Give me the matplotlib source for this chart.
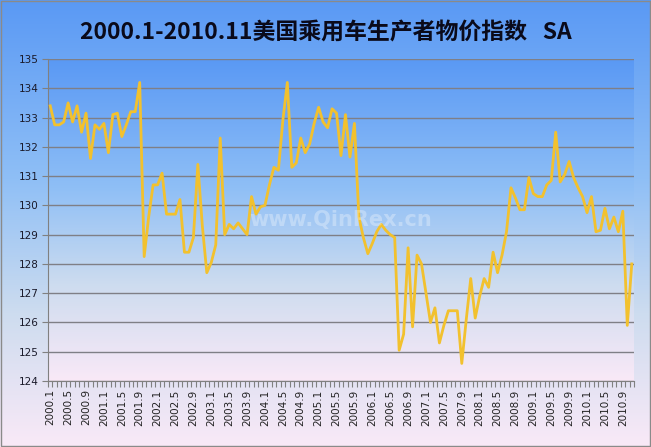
import numpy as np
import matplotlib.pyplot as plt
from matplotlib.colors import LinearSegmentedColormap

# monthly index values, 2000.1 .. 2010.11
years = list(range(2000, 2011))
values = [
    133.4, 132.75, 132.75, 132.85, 133.5, 132.85, 133.4, 132.5, 133.15, 131.6, 132.75, 132.6,
    132.8, 131.8, 133.1, 133.15, 132.35, 132.75, 133.2, 133.2, 134.2, 128.25, 129.6, 130.7,
    130.7, 131.1, 129.7, 129.7, 129.7, 130.2, 128.4, 128.4, 128.9, 131.4, 129.3, 127.7,
    128.05, 128.65, 132.3, 129.0, 129.35, 129.2, 129.4, 129.2, 129.0, 130.3, 129.7, 129.95,
    130.0, 130.7, 131.3, 131.2, 132.9, 134.2, 131.3, 131.45, 132.3, 131.8, 132.1, 132.8,
    133.35, 132.85, 132.65, 133.3, 133.15, 131.7, 133.1, 131.65, 132.8, 129.6, 128.9, 128.35,
    128.7, 129.1, 129.35, 129.15, 129.0, 128.9, 125.05, 125.6, 128.55, 125.85, 128.3, 128.0,
    127.0, 126.0, 126.5, 125.3, 125.9, 126.4, 126.4, 126.4, 124.6, 126.1, 127.5, 126.15,
    126.9, 127.5, 127.2, 128.4, 127.7, 128.3, 129.1, 130.6, 130.25, 129.85, 129.85, 130.95,
    130.4, 130.3, 130.3, 130.7, 130.85, 132.5, 130.8, 131.05, 131.5, 130.95, 130.6, 130.3,
    129.75, 130.3, 129.1, 129.15, 129.9, 129.2, 129.6, 129.1, 129.8, 125.9, 128.0,
]
months = ['%d.%d' % (y, m) for y in years for m in range(1, 13)][:len(values)]

plt.rcParams['font.family'] = ['Noto Sans CJK SC', 'DejaVu Sans']

fig = plt.figure(figsize=(6.51, 4.47), dpi=100)

# gradient used for the chart background and the plot area
grad_cmap = LinearSegmentedColormap.from_list(
    'bg', [(0.0, '#f9e9f7'), (0.3, '#cddcef'), (0.6, '#8fbff6'), (1.0, '#5a99f4')])
grad = np.linspace(0, 1, 256).reshape(-1, 1)

bg = fig.add_axes([0, 0, 1, 1], zorder=-2)
bg.imshow(grad, cmap=grad_cmap, aspect='auto', origin='lower', extent=[0, 1, 0, 1])
bg.set_xlim(0, 1)
bg.set_ylim(0, 1)
bg.axis('off')
bg.add_patch(plt.Rectangle((0.001, 0.002), 0.997, 0.996, fill=False, edgecolor='#8a8a8a', lw=1))

pos = [48 / 651, 1 - 381 / 447, (634 - 48) / 651, (381 - 59) / 447]
pbg = fig.add_axes(pos, zorder=-1)
pbg.imshow(grad, cmap=grad_cmap, aspect='auto', origin='lower', extent=[0, 1, 0, 1])
pbg.axis('off')

ax = fig.add_axes(pos)
ax.set_facecolor('none')
x = np.arange(len(values))
ax.plot(x, values, color='#f2c12e', lw=2.0, zorder=3)

ax.set_xlim(-0.5, len(values) - 0.5)
ax.set_ylim(124, 135)
ax.set_yticks(range(124, 136))
ax.yaxis.grid(True, color='#7f7f86', lw=1)
ax.set_axisbelow(True)

ax.set_xticks(x[::4])
ax.set_xticklabels(months[::4], rotation=90, fontsize=7.5, color='#222222',
                   family='DejaVu Sans')
ax.set_xticks(np.arange(-0.5, len(values), 1), minor=True)
ax.tick_params(axis='x', which='major', length=0, pad=6)
ax.tick_params(axis='x', which='minor', length=4, color='#808080', width=0.8)
ax.tick_params(axis='y', length=4, color='#808080', labelsize=7.5, labelcolor='#1a1a2a', pad=3)
for lbl in ax.get_yticklabels():
    lbl.set_family('DejaVu Sans')

for s in ['top', 'right']:
    ax.spines[s].set_visible(False)
ax.spines['left'].set_color('#808080')
ax.spines['bottom'].set_color('#808080')

ax.text(0.5, 0.5, 'www.QinRex.cn', transform=ax.transAxes, ha='center', va='center',
        fontsize=15, fontweight='bold', color='white', alpha=0.3, family='DejaVu Sans',
        zorder=4)

fig.text(0.5, 1 - 33 / 447, '2000.1-2010.11美国乘用车生产者物价指数   SA',
         ha='center', va='center', fontsize=16.5, fontweight='bold', color='#0a0a1a')

fig.savefig('out.png', dpi=100)
